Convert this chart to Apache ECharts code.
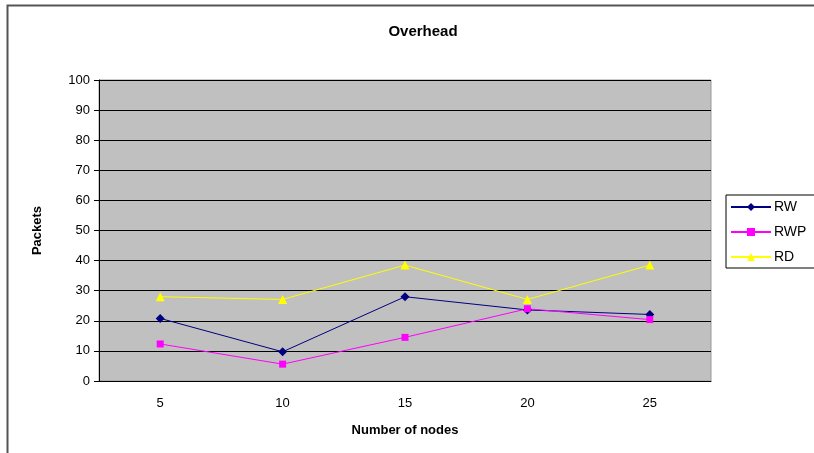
<!DOCTYPE html>
<html>
<head>
<meta charset="utf-8">
<script src="https://cdn.jsdelivr.net/npm/echarts@6/dist/echarts.min.js"></script>
<style>
  html, body { margin: 0; padding: 0; background: #fff; }
  #chart { width: 814px; height: 453px; }
</style>
</head>
<body>
<div id="chart"></div>
<script>
const nodes = ['5', '10', '15', '20', '25']
const rw = [20.8, 9.7, 28.0, 23.6, 22.1]
const rwp = [12.3, 5.6, 14.5, 24.0, 20.4]
const rd = [28.0, 27.1, 38.5, 27.1, 38.5]

const font = 'Liberation Sans, Arial, sans-serif'

const chart = echarts.init(document.getElementById('chart'))

const option = {
  animation: false,
  backgroundColor: '#fff',
  graphic: [
    {
      type: 'rect',
      shape: { x: 7.5, y: 5.5, width: 830, height: 470 },
      style: { fill: 'none', stroke: '#555', lineWidth: 2 },
      silent: true,
      z: -1
    }
  ],
  title: {
    text: 'Overhead',
    left: 418,
    top: 19,
    textAlign: 'center',
    textStyle: { fontFamily: font, fontSize: 15, fontWeight: 'bold', color: '#000' }
  },
  legend: {
    orient: 'vertical',
    left: 726,
    top: 195,
    itemGap: 11,
    itemWidth: 40,
    itemHeight: 10,
    padding: [5, 20, 4, 4],
    borderColor: '#000',
    borderWidth: 1,
    backgroundColor: '#fff',
    textStyle: { fontFamily: font, fontSize: 14, color: '#000', padding: [0, 0, 0, -2] },
    data: ['RW', 'RWP', 'RD']
  },
  grid: {
    left: 99,
    right: 103,
    top: 80,
    bottom: 72,
    show: true,
    backgroundColor: '#c0c0c0',
    borderColor: '#999',
    borderWidth: 1
  },
  xAxis: {
    type: 'category',
    data: nodes,
    boundaryGap: true,
    name: 'Number of nodes',
    nameLocation: 'middle',
    nameGap: 43,
    nameTextStyle: { fontFamily: font, fontSize: 13, fontWeight: 'bold', color: '#000' },
    axisLine: { lineStyle: { color: '#000', width: 1 } },
    axisTick: { alignWithLabel: false, length: 5, lineStyle: { color: '#000' } },
    axisLabel: { fontFamily: font, fontSize: 13, color: '#000', margin: 16 },
    splitLine: { show: false }
  },
  yAxis: {
    type: 'value',
    min: 0,
    max: 100,
    interval: 10,
    name: 'Packets',
    nameLocation: 'middle',
    nameGap: 55,
    nameRotate: 90,
    nameTextStyle: { fontFamily: font, fontSize: 13, fontWeight: 'bold', color: '#000' },
    axisLine: { show: true, lineStyle: { color: '#000', width: 1 } },
    axisTick: { show: true, length: 5, lineStyle: { color: '#000' } },
    axisLabel: { fontFamily: font, fontSize: 13, color: '#000', margin: 9 },
    splitLine: { lineStyle: { color: '#000', width: 1 } }
  },
  series: [
    {
      name: 'RW',
      type: 'line',
      data: rw,
      symbol: 'diamond',
      symbolSize: 9,
      color: '#000080',
      lineStyle: { width: 1, color: '#000080' },
      itemStyle: { color: '#000080' }
    },
    {
      name: 'RWP',
      type: 'line',
      data: rwp,
      symbol: 'rect',
      symbolSize: 7,
      color: '#ff00ff',
      lineStyle: { width: 1, color: '#ff00ff' },
      itemStyle: { color: '#ff00ff' }
    },
    {
      name: 'RD',
      type: 'line',
      data: rd,
      symbol: 'triangle',
      symbolSize: 9,
      color: '#ffff00',
      lineStyle: { width: 1, color: '#ffff00' },
      itemStyle: { color: '#ffff00' }
    }
  ]
}

chart.setOption(option)

window.addEventListener('resize', () => {
  chart.resize()
})
</script>
</body>
</html>
